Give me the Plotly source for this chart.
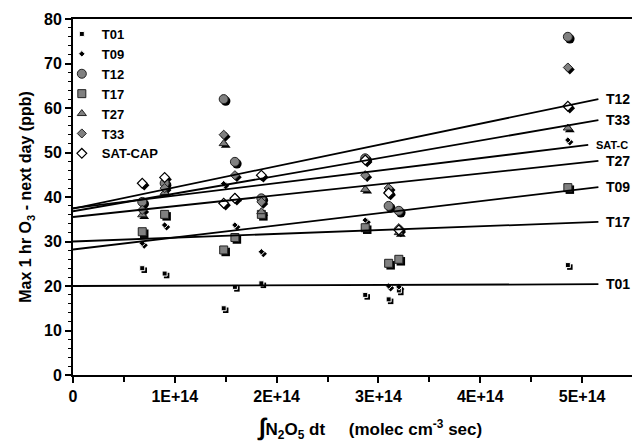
import numpy as np
import plotly.graph_objects as go

# ---- data ----
x_e14 = [0.68, 0.90, 1.48, 1.59, 1.85, 2.87, 3.10, 3.20, 4.86]   # in units of 1E+14
series_names = ["T01", "T09", "T12", "T17", "T27", "T33", "SAT-CAP"]
T01 = [24.0, 22.8, 15.0, 19.8, 20.6, 18.0, 17.0, 19.0, 24.7]
T09 = [29.6, 33.7, 43.0, 33.7, 27.7, 34.8, 20.0, 19.8, 52.8]
T12 = [38.9, 43.1, 62.0, 47.9, 39.7, 48.7, 38.0, 36.9, 76.0]
T17 = [32.2, 36.1, 28.1, 30.9, 36.1, 33.1, 25.1, 26.0, 42.1]
T27 = [36.0, 41.0, 52.0, 40.0, 36.7, 41.7, 41.5, 32.0, 55.5]
T33 = [37.1, 42.0, 54.0, 44.9, 38.9, 44.9, 42.0, 33.0, 69.1]
SAT_CAP = [43.1, 44.4, 38.6, 39.7, 44.9, 48.3, 40.9, 32.6, 60.4]

# trend lines (value at x=0 and at line end)
trend_labels = ["T12", "T33", "SAT-C", "T27", "T09", "T17", "T01"]
trend_y0 = [37.4, 36.8, 37.5, 35.5, 28.2, 30.0, 20.0]
trend_y1 = [62.0, 57.3, 51.7, 48.1, 42.2, 34.4, 20.4]
trend_x1_e14 = [5.16, 5.16, 5.06, 5.16, 5.16, 5.16, 5.16]

x_tick_vals_e14 = [0, 1, 2, 3, 4, 5]
x_tick_text = ["0", "1E+14", "2E+14", "3E+14", "4E+14", "5E+14"]

# ---- styles ----
FONT = "Liberation Sans, Arial, sans-serif"
GREY = "#808080"
styles = {
    "T01": dict(symbol="square", size=5, color="black", line=dict(color="white", width=1)),
    "T09": dict(symbol="diamond", size=5, color="black", line=dict(color="white", width=1)),
    "T12": dict(symbol="circle", size=9, color=GREY, line=dict(color="#222", width=1)),
    "T17": dict(symbol="square", size=8, color=GREY, line=dict(color="#222", width=1)),
    "T27": dict(symbol="triangle-up", size=8, color=GREY, line=dict(color="#222", width=1)),
    "T33": dict(symbol="diamond", size=7, color=GREY, line=dict(color="#222", width=1)),
    "SAT-CAP": dict(symbol="diamond", size=7.5, color="white", line=dict(color="black", width=1.2)),
}
data = {"T01": T01, "T09": T09, "T12": T12, "T17": T17, "T27": T27, "T33": T33, "SAT-CAP": SAT_CAP}

X_SCALE = 1e14
xs = np.array(x_e14) * X_SCALE
# shadow offset: ~2 px right, ~2 px down (axis: ~101.8 px per 1E14, ~4.45 px per ppb)
dx = 2.0 / 101.8 * X_SCALE
dy = 2.0 / 4.45

fig = go.Figure()

# shadows
for name in series_names:
    st = styles[name]
    fig.add_trace(go.Scatter(
        x=xs + dx, y=np.array(data[name]) - dy, mode="markers", showlegend=False,
        hoverinfo="skip",
        marker=dict(symbol=st["symbol"], size=st["size"] + 0.5, color="black", line=dict(width=0))))

# markers
for name in series_names:
    st = styles[name]
    fig.add_trace(go.Scatter(
        x=xs, y=data[name], mode="markers", name="<b>%s</b>" % name,
        marker=dict(symbol=st["symbol"], size=st["size"], color=st["color"], line=st["line"])))

# trend lines + labels
for lab, y0, y1, x1 in zip(trend_labels, trend_y0, trend_y1, trend_x1_e14):
    fig.add_trace(go.Scatter(x=[0, x1 * X_SCALE], y=[y0, y1], mode="lines", showlegend=False,
                             hoverinfo="skip", line=dict(color="black", width=1.8)))
    fig.add_annotation(x=x1 * X_SCALE, y=y1, xref="x", yref="y", text="<b>%s</b>" % lab,
                       showarrow=False, xanchor="left", yanchor="middle", xshift=6,
                       font=dict(family=FONT, size=11 if lab == "SAT-C" else 14, color="black"))

# x-axis title
fig.add_annotation(
    xref="paper", yref="paper", x=0.53, y=-0.148, xanchor="center", yanchor="middle",
    showarrow=False,
    text="<b><span style='font-size:24px'>∫</span>N<sub>2</sub>O<sub>5</sub> dt\u00a0\u00a0\u00a0\u00a0\u00a0(molec cm<sup>-3</sup> sec)</b>",
    font=dict(family=FONT, size=17, color="black"))

fig.update_layout(
    width=632, height=443,
    margin=dict(l=73, r=0, t=19, b=68),
    paper_bgcolor="white", plot_bgcolor="white",
    font=dict(family=FONT, color="black"),
    showlegend=True,
    legend=dict(x=-0.02, y=1.0, xanchor="left", yanchor="top",
                bgcolor="rgba(0,0,0,0)", font=dict(family=FONT, size=13, color="black"),
                itemwidth=30, tracegroupgap=0),
    xaxis=dict(range=[0, 5.49e14], showgrid=False, zeroline=False,
               showline=True, linecolor="black", linewidth=2, mirror=True,
               ticks="outside", ticklen=6, tickwidth=1.5, tickcolor="black",
               tickvals=[v * X_SCALE for v in x_tick_vals_e14], ticktext=["<b>%s</b>" % t for t in x_tick_text],
               tickfont=dict(family=FONT, size=16, color="black"),
               minor=dict(dtick=0.5e14, ticks="outside", ticklen=5, tickwidth=1.5, tickcolor="black", showgrid=False)),
    yaxis=dict(range=[0, 80], showgrid=False, zeroline=False,
               showline=True, linecolor="black", linewidth=2,
               ticks="outside", ticklen=6, tickwidth=1.5, tickcolor="black",
               tickvals=list(range(0, 81, 10)), ticktext=["<b>%d</b>" % v for v in range(0, 81, 10)],
               tickfont=dict(family=FONT, size=16, color="black"),
               minor=dict(dtick=2, ticks="outside", ticklen=3, tickwidth=1, tickcolor="black", showgrid=False),
               title=dict(text="<b>Max 1 hr O<sub>3</sub> - next day (ppb)</b>",
                          font=dict(family=FONT, size=16, color="black"), standoff=8)),
)

fig.write_html("out.html",
               config={"displayModeBar": False},
               post_script="document.body.style.margin='0';document.body.style.padding='0';"
                           "document.documentElement.style.overflow='hidden';")
